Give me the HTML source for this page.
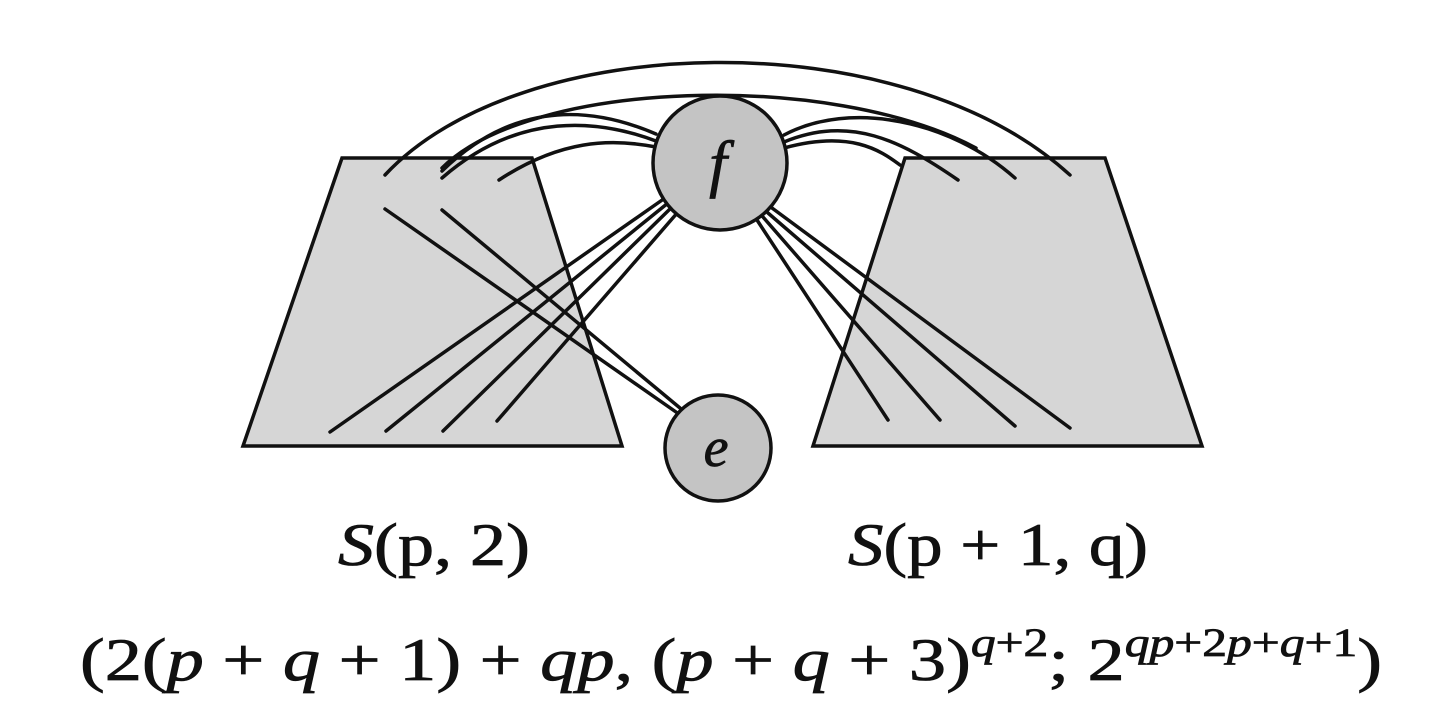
<!DOCTYPE html>
<html><head><meta charset="utf-8"><style>
html,body{margin:0;padding:0;background:#fff;width:1440px;height:720px;overflow:hidden}
text{font-family:"Liberation Serif","DejaVu Serif",serif}
</style></head><body>
<svg width="1440" height="720" viewBox="0 0 1440 720" xmlns="http://www.w3.org/2000/svg">
<g stroke="#111" stroke-width="3.5" fill="none" stroke-linecap="round">
<polygon points="342,158 532,158 622,446 243,446" fill="#d6d6d6"/>
<polygon points="905,158 1105,158 1202,446 813,446" fill="#d6d6d6"/>
<path d="M385,175 C520,30 900,20 1070,175"/>
<path d="M442,168 C530,80 830,70 976,148"/>
<path d="M656,134 C600,110 520,95 442,171"/>
<path d="M656,141 C600,120 520,110 442,178"/>
<path d="M656,147 C610,138 560,140 499,180"/>
<path d="M784,135 C850,100 950,120 1015,178"/>
<path d="M784,142 C850,115 900,140 958,180"/>
<path d="M784,148 C850,130 880,150 900,165"/>
<path d="M665,198 L330,432"/>
<path d="M668,203 L386,431"/>
<path d="M672,207 L443,431"/>
<path d="M678,212 L497,421"/>
<path d="M385,209 L676,412"/>
<path d="M442,210 L680,408"/>
<path d="M757,220 L888,420"/>
<path d="M763,217 L940,420"/>
<path d="M768,213 L1015,426"/>
<path d="M772,208 L1070,428"/>
<circle cx="720" cy="163" r="67" fill="#c4c4c4"/>
<circle cx="718" cy="448" r="53" fill="#c4c4c4"/>
</g>
<g fill="#111" stroke="#111" stroke-width="0.8">
<text x="718" y="185" font-size="64" font-style="italic" text-anchor="middle">f</text>
<text x="716" y="466" font-size="56" font-style="italic" text-anchor="middle">e</text>
<text x="338" y="565" font-size="60" textLength="192" lengthAdjust="spacingAndGlyphs"><tspan font-style="italic">S</tspan>(p, 2)</text>
<text x="848" y="565" font-size="60" textLength="300" lengthAdjust="spacingAndGlyphs"><tspan font-style="italic">S</tspan>(p + 1, q)</text>
<text x="80" y="680" font-size="60" textLength="1302" lengthAdjust="spacingAndGlyphs">(2(<tspan font-style="italic">p</tspan> + <tspan font-style="italic">q</tspan> + 1) + <tspan font-style="italic">qp</tspan>, (<tspan font-style="italic">p</tspan> + <tspan font-style="italic">q</tspan> + 3)<tspan font-size="40" dy="-24" font-style="italic">q</tspan><tspan font-size="40">+2</tspan><tspan dy="24">; 2</tspan><tspan font-size="40" dy="-24" font-style="italic">qp</tspan><tspan font-size="40">+2</tspan><tspan font-size="40" font-style="italic">p</tspan><tspan font-size="40">+</tspan><tspan font-size="40" font-style="italic">q</tspan><tspan font-size="40">+1</tspan><tspan dy="24">)</tspan></text>
</g>
</svg>
</body></html>
